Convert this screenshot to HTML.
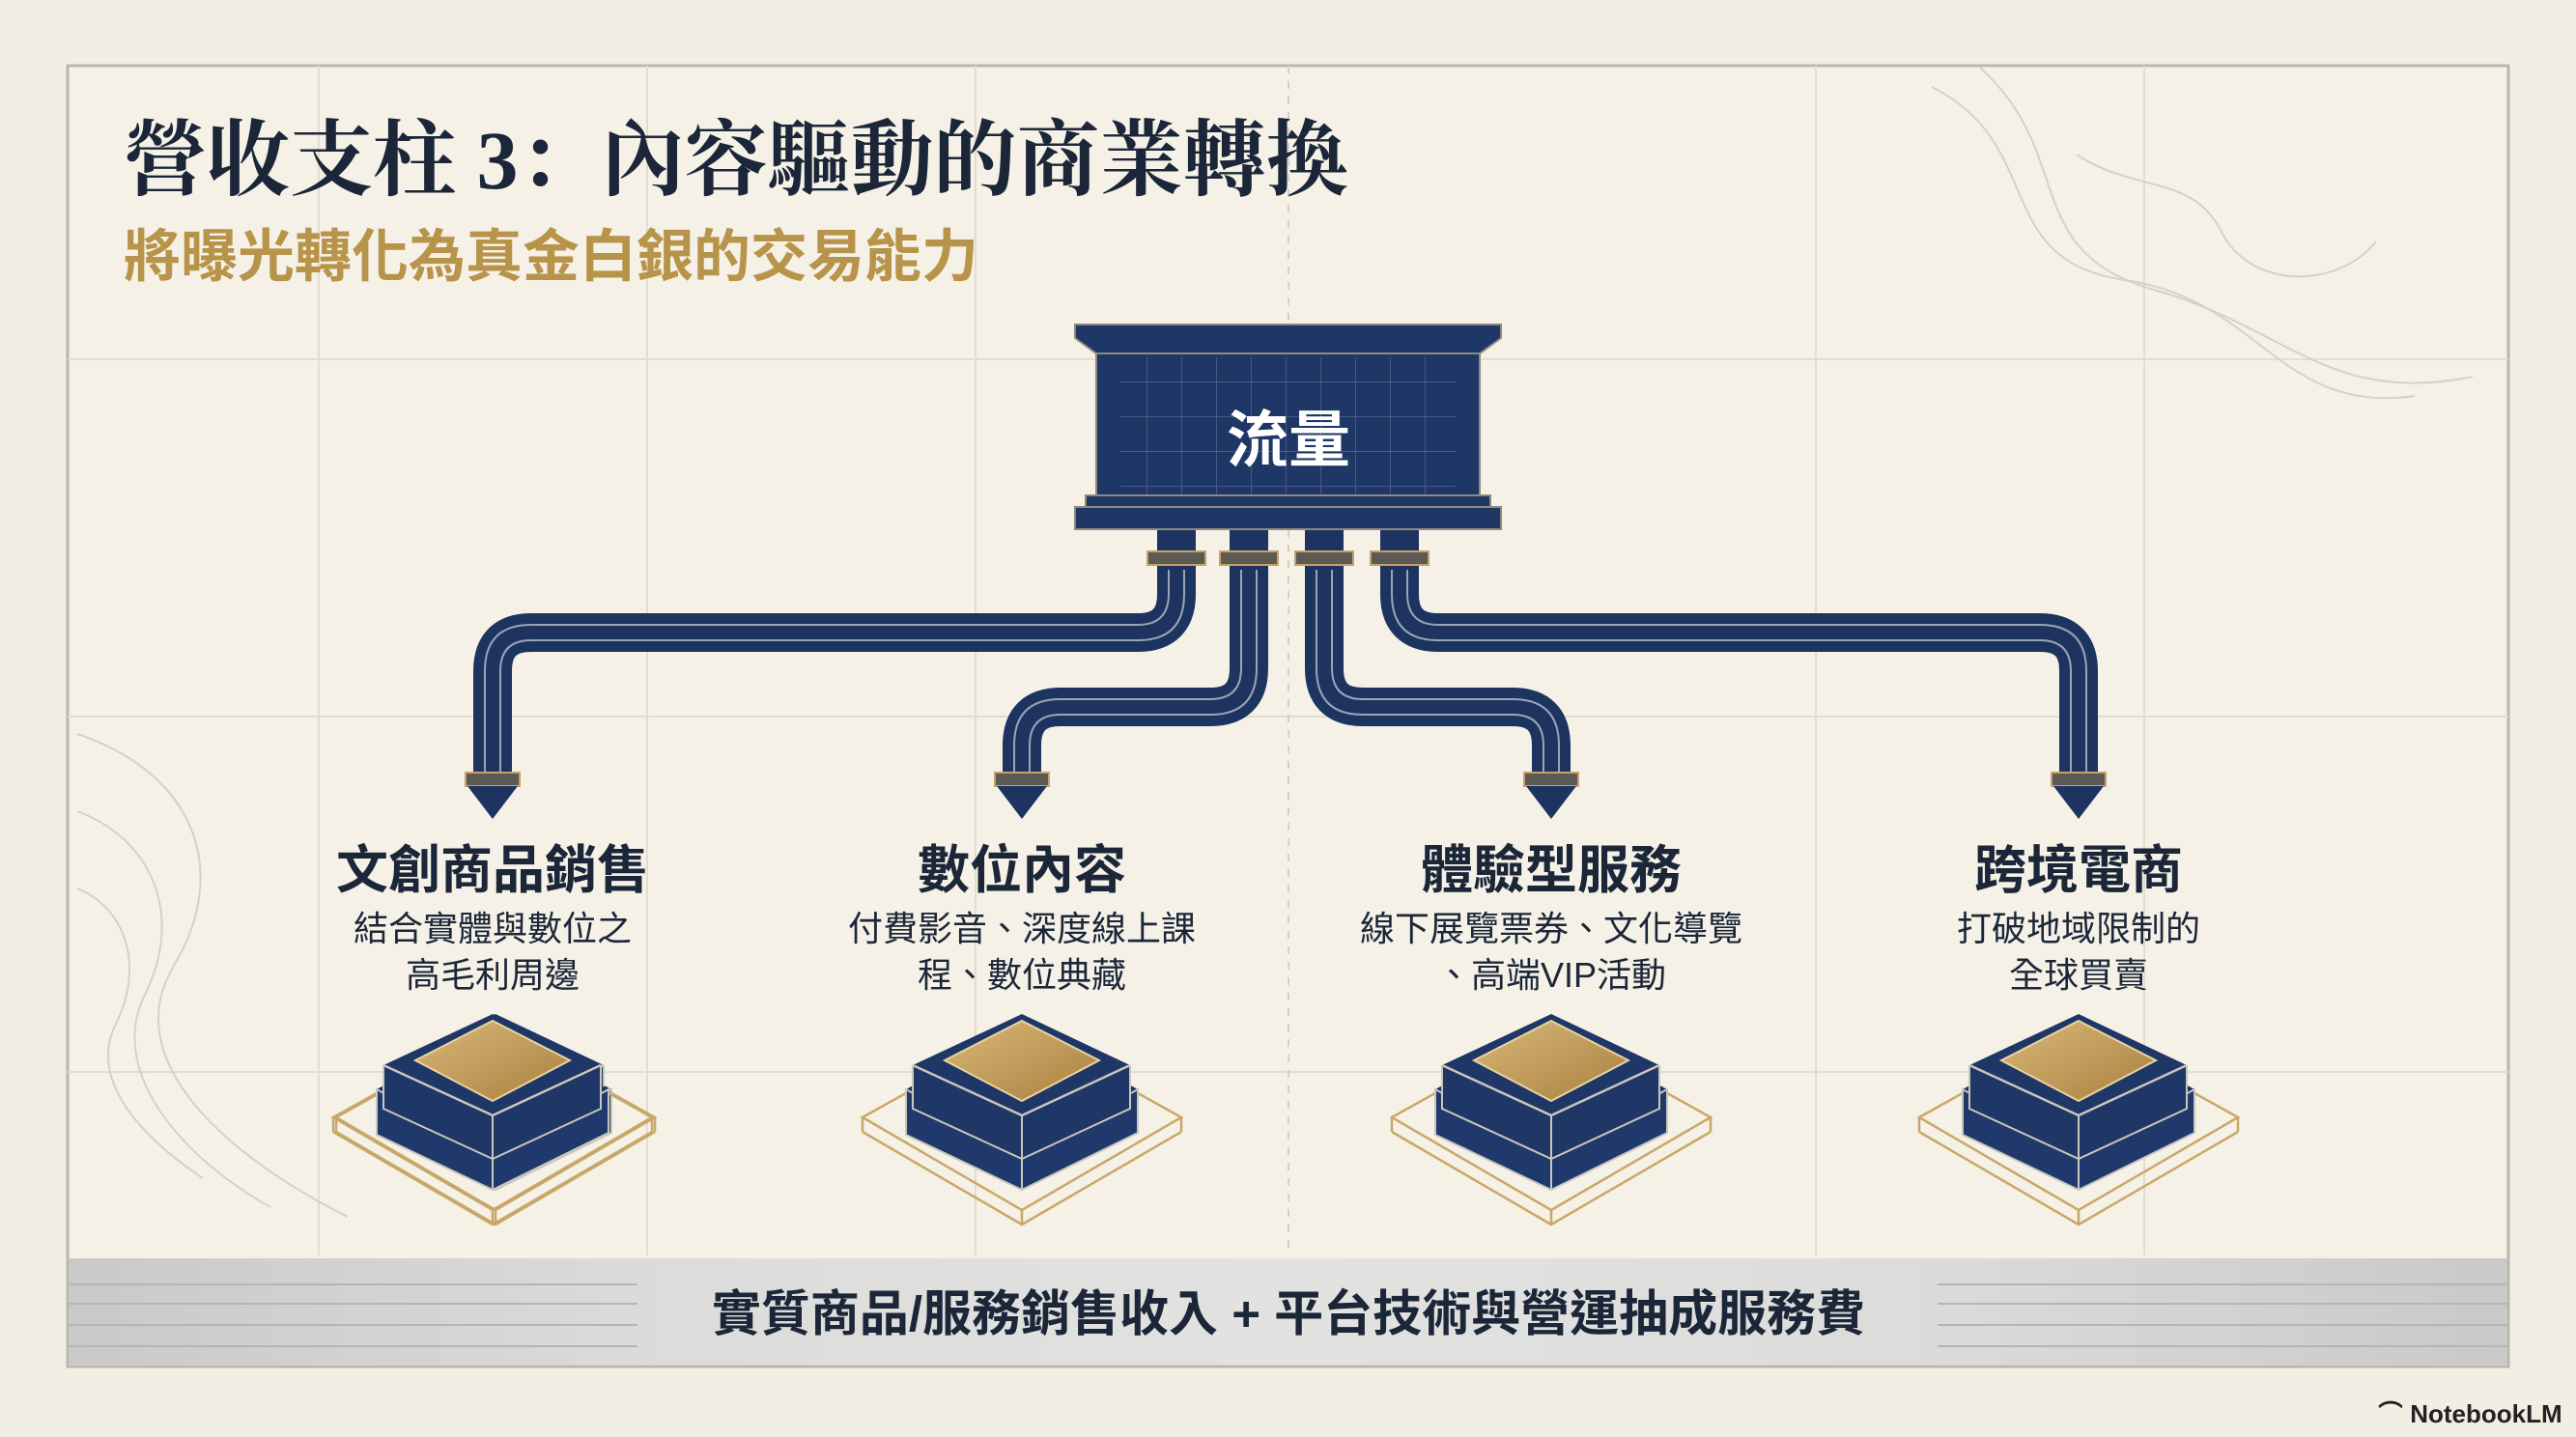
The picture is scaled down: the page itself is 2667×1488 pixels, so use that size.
<!DOCTYPE html>
<html><head><meta charset="utf-8"><style>
html,body{margin:0;padding:0}
body{width:2667px;height:1488px;background:#f3eee3;position:relative;overflow:hidden;font-family:"Liberation Sans","Noto Sans CJK TC",sans-serif}
.t{position:absolute;white-space:nowrap}
</style></head><body>
<svg width="2667" height="1488" style="position:absolute;left:0;top:0">
<defs>
<linearGradient id="band" x1="0" x2="1"><stop offset="0" stop-color="#c9c9c7"/><stop offset="0.25" stop-color="#dcdcda"/><stop offset="0.5" stop-color="#e2e2e0"/><stop offset="0.75" stop-color="#dcdcda"/><stop offset="1" stop-color="#c9c9c7"/></linearGradient>
<linearGradient id="gold" x1="0" y1="0" x2="1" y2="1"><stop offset="0" stop-color="#d9b878"/><stop offset="1" stop-color="#a98040"/></linearGradient>
<pattern id="grid" width="36" height="36" patternUnits="userSpaceOnUse"><path d="M36 0V36M0 36H36" stroke="#8fa0c0" stroke-width="1.2" fill="none" opacity="0.55"/></pattern>
</defs>
<rect x="70" y="68" width="2527" height="1347" fill="#f5f1e7" stroke="#b9b6ae" stroke-width="3"/>
<g stroke="#e2ddd0" stroke-width="2" fill="none">
<path d="M70 372H2597M70 742H2597M70 1110H2597"/>
<path d="M330 68V1300M670 68V1300M1010 68V1300M1880 68V1300M2220 68V1300"/>
<path d="M1334 68V1300" stroke-dasharray="8 8" stroke="#d5d0c2"/>
</g>
<g stroke="#cfcabd" stroke-width="2" fill="none" opacity="0.8">
<path d="M2000 90c120 60 60 180 200 200s160 140 300 120"/>
<path d="M2050 70c100 90 40 190 180 230s180 120 330 90"/>
<path d="M2150 160c60 40 120 20 150 80s120 60 160 10"/>
<path d="M80 760c120 40 160 140 100 240s60 200 180 260"/>
<path d="M80 840c80 30 110 110 70 190s40 170 130 220"/>
<path d="M80 920c50 20 70 80 40 140s30 120 90 160"/>
</g>
<rect x="71" y="1303" width="2525" height="110" fill="url(#band)"/>
<g stroke="#b5b5b3" stroke-width="2"><path d="M71 1330H660M71 1350H660M71 1372H660M71 1394H660M2006 1330H2596M2006 1350H2596M2006 1372H2596M2006 1394H2596"/></g>
<g fill="none" stroke-linecap="butt">
<g stroke="#1d3461" stroke-width="40">
<path d="M1218 548V615Q1218 655 1178 655H550Q510 655 510 695V810"/>
<path d="M1293 548V692Q1293 732 1253 732H1098Q1058 732 1058 772V810"/>
<path d="M1371 548V692Q1371 732 1411 732H1566Q1606 732 1606 772V810"/>
<path d="M1449 548V615Q1449 655 1489 655H2112Q2152 655 2152 695V810"/>
</g>
<g stroke="#b9c0cc" stroke-width="2" opacity="0.8">
<path d="M1210 590V615Q1210 647 1178 647H550Q502 647 502 695V800"/>
<path d="M1226 590V615Q1226 663 1178 663H550Q518 663 518 695V800"/>
<path d="M1285 590V692Q1285 724 1253 724H1098Q1050 724 1050 772V800"/>
<path d="M1301 590V692Q1301 740 1253 740H1098Q1066 740 1066 772V800"/>
<path d="M1363 590V692Q1363 740 1411 740H1566Q1598 740 1598 772V800"/>
<path d="M1379 590V692Q1379 724 1411 724H1566Q1614 724 1614 772V800"/>
<path d="M1441 590V615Q1441 663 1489 663H2112Q2144 663 2144 695V800"/>
<path d="M1457 590V615Q1457 647 1489 647H2112Q2160 647 2160 695V800"/>
</g>
</g>
<g fill="#5c5a52" stroke="#c3a36a" stroke-width="2">
<rect x="1188" y="571" width="60" height="14"/><rect x="1263" y="571" width="60" height="14"/><rect x="1341" y="571" width="60" height="14"/><rect x="1419" y="571" width="60" height="14"/>
<rect x="482" y="800" width="56" height="14"/><rect x="1030" y="800" width="56" height="14"/><rect x="1578" y="800" width="56" height="14"/><rect x="2124" y="800" width="56" height="14"/>
</g>
<g fill="#1d3461">
<path d="M484 814H536L510 848Z"/><path d="M1032 814H1084L1058 848Z"/><path d="M1580 814H1632L1606 848Z"/><path d="M2126 814H2178L2152 848Z"/>
</g>
<g stroke="#8e8a7e" stroke-width="2">
<path d="M1113 336H1554V350L1532 366H1135L1113 350Z" fill="#1f3766"/>
<rect x="1135" y="366" width="397" height="150" fill="#1f3766"/>
<rect x="1160" y="370" width="347" height="142" fill="url(#grid)" stroke="none"/>
<rect x="1124" y="513" width="419" height="12" fill="#1f3766"/>
<rect x="1113" y="525" width="441" height="23" fill="#1f3766"/>
</g>
<g id="cube">
<path d="M348 1157L513 1065L678 1157L513 1253Z" fill="none" stroke="#c9a867" stroke-width="2.5"/>
<path d="M348 1172L513 1268L678 1172M348 1157V1172M678 1157V1172M513 1253V1268" fill="none" stroke="#c9a867" stroke-width="2.5"/>
<path d="M393 1128L513 1062L633 1128V1173L513 1232L393 1175Z" fill="#1c3262"/>
<path d="M393 1128L513 1195L633 1128V1173L513 1232L393 1175Z" fill="#20396c" stroke="#c9c6bc" stroke-width="2"/>
<path d="M400 1103L513 1050L625 1103V1148L513 1200L400 1148Z" fill="#1f3766"/>
<path d="M400 1103L513 1155L625 1103" fill="none" stroke="#c9c6bc" stroke-width="2.5"/>
<path d="M400 1103V1148L513 1200L625 1148V1103M513 1155V1232" fill="none" stroke="#c9c6bc" stroke-width="2"/>
<path d="M433 1098L513 1057L593 1098L513 1140Z" fill="url(#gold)" stroke="#e8d3a0" stroke-width="2"/>
</g>
<use href="#cube" x="-3"/>
<use href="#cube" x="545"/>
<use href="#cube" x="1093"/>
<use href="#cube" x="1639"/>
</svg>
<div class="t" style="left:128px;top:96px;font-size:86px;font-weight:bold;color:#1b2638;font-family:'Liberation Serif','Noto Serif CJK SC',serif">營收支柱 3：內容驅動的商業轉換</div>
<div class="t" style="left:128px;top:218px;font-size:59px;font-weight:bold;color:#b8934a">將曝光轉化為真金白銀的交易能力</div>
<div class="t" style="left:1334px;top:451px;transform:translate(-50%,-50%);font-size:64px;font-weight:bold;color:#fff">流量</div>
<div class="t" style="left:510px;top:896px;transform:translate(-50%,-50%);font-size:54px;font-weight:bold;color:#1b2638">文創商品銷售</div>
<div class="t" style="left:1058px;top:896px;transform:translate(-50%,-50%);font-size:54px;font-weight:bold;color:#1b2638">數位內容</div>
<div class="t" style="left:1606px;top:896px;transform:translate(-50%,-50%);font-size:54px;font-weight:bold;color:#1b2638">體驗型服務</div>
<div class="t" style="left:2152px;top:896px;transform:translate(-50%,-50%);font-size:54px;font-weight:bold;color:#1b2638">跨境電商</div>
<div class="t" style="left:510px;top:986px;transform:translate(-50%,-50%);font-size:36px;line-height:48px;text-align:center;color:#1b2638">結合實體與數位之<br>高毛利周邊</div>
<div class="t" style="left:1058px;top:986px;transform:translate(-50%,-50%);font-size:36px;line-height:48px;text-align:center;color:#1b2638">付費影音、深度線上課<br>程、數位典藏</div>
<div class="t" style="left:1606px;top:986px;transform:translate(-50%,-50%);font-size:36px;line-height:48px;text-align:center;color:#1b2638">線下展覽票券、文化導覽<br>、高端VIP活動</div>
<div class="t" style="left:2152px;top:986px;transform:translate(-50%,-50%);font-size:36px;line-height:48px;text-align:center;color:#1b2638">打破地域限制的<br>全球買賣</div>
<div class="t" style="left:1334px;top:1356px;transform:translate(-50%,-50%);font-size:51px;font-weight:bold;color:#1b2638">實質商品/服務銷售收入 + 平台技術與營運抽成服務費</div>
<div class="t" style="left:2462px;top:1444px;font-size:26px;font-weight:bold;color:#222">⌒ NotebookLM</div>
</body></html>
